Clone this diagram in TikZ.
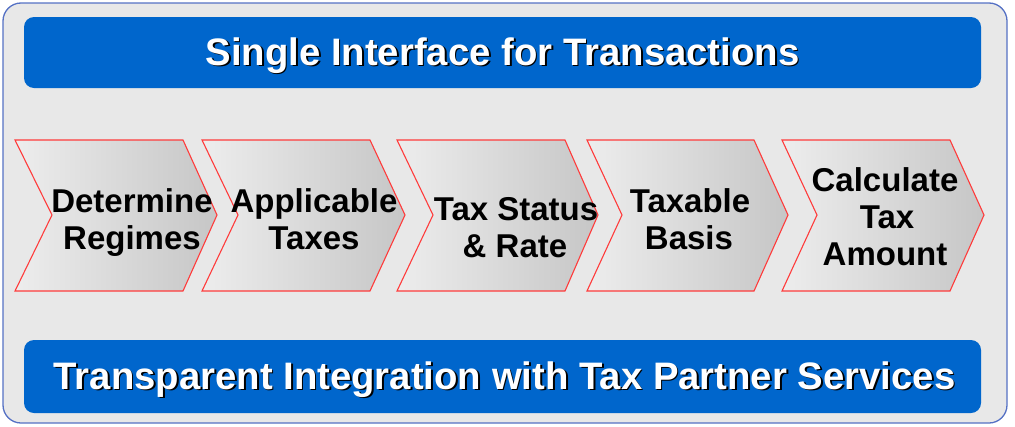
\documentclass[tikz,border=0pt]{standalone}
\usepackage{fontspec}
\setmainfont{Liberation Sans}
\definecolor{bgray}{HTML}{E8E8E8}
\definecolor{frameblue}{HTML}{5571C4}
\definecolor{barblue}{HTML}{0066CC}
\definecolor{chevred}{HTML}{FF3B3B}
\definecolor{chevlight}{HTML}{EDEDED}
\definecolor{chevdark}{HTML}{C6C6C6}
\begin{document}
\begin{tikzpicture}[x=1pt,y=-1pt,
  frame/.style={draw=frameblue,line width=1.3pt,fill=bgray,rounded corners=18pt},
  bar/.style={fill=barblue,rounded corners=10pt},
  bartxt/.style={font=\bfseries\fontsize{38.3}{40}\selectfont,inner sep=0pt,anchor=base},
  chev/.style={draw=chevred,line width=1.1pt,left color=chevlight,right color=chevdark,line join=miter},
  chevtxt/.style={font=\bfseries\fontsize{33}{37}\selectfont,inner sep=0pt,anchor=base,text=black}]
\useasboundingbox (0,0) rectangle (1015,426);
\draw[frame] (3,3) rectangle (1007,423);
% bars
\fill[bar] (24,17) rectangle (981,88);
\fill[bar] (24,340) rectangle (981,413);
\node[bartxt,text=black] (topshadow) at (504.3,66.8) {Single Interface for Transactions};
\node[bartxt,text=white] (toptxt) at (502.5,65) {Single Interface for Transactions};
\node[bartxt,text=black] (botshadow) at (506.3,390.8) {Transparent Integration with Tax Partner Services};
\node[bartxt,text=white] (bottxt) at (504.5,389) {Transparent Integration with Tax Partner Services};
% chevrons
\draw[chev] (15,140) -- (183,140) -- (217,215) -- (183,291) -- (15,291) -- (52,215) -- cycle;
\draw[chev] (202,140) -- (370,140) -- (405,215) -- (370,291) -- (202,291) -- (238,215) -- cycle;
\draw[chev] (397,140) -- (565,140) -- (598,215) -- (565,291) -- (397,291) -- (433,215) -- cycle;
\draw[chev] (587,140) -- (754,140) -- (788,215) -- (754,291) -- (587,291) -- (622,215) -- cycle;
\draw[chev] (782,140) -- (950,140) -- (984,215) -- (950,291) -- (782,291) -- (817,215) -- cycle;
% chevron labels
\node[chevtxt] (c1a) at (132,212) {Determine};
\node[chevtxt] (c1b) at (132,249) {Regimes};
\node[chevtxt] (c2a) at (314,212) {Applicable};
\node[chevtxt] (c2b) at (314,249) {Taxes};
\node[chevtxt] (c3a) at (516,220) {Tax Status};
\node[chevtxt] (c3b) at (515,257) {\& Rate};
\node[chevtxt] (c4a) at (690,212) {Taxable};
\node[chevtxt] (c4b) at (689,249) {Basis};
\node[chevtxt] (c5a) at (885,191) {Calculate};
\node[chevtxt] (c5b) at (887,228) {Tax};
\node[chevtxt] (c5c) at (885,265) {Amount};
\end{tikzpicture}
\end{document}
